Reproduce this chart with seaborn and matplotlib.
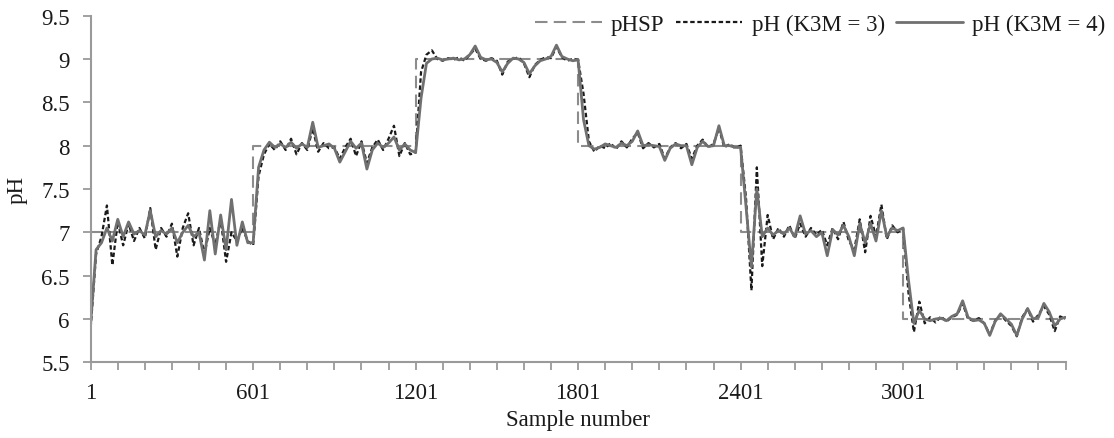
import numpy as np
import pandas as pd
import matplotlib
matplotlib.use("Agg")
import matplotlib.pyplot as plt
import seaborn as sns

# ---------------- data ----------------
sample = [1 + 20 * k for k in range(180)] + [3600]

ph_k3 = [
    5.90, 6.75, 6.95, 7.31, 6.62, 7.12, 6.85, 7.10, 6.90, 7.05,
    6.93, 7.28, 6.80, 7.05, 6.95, 7.10, 6.72, 7.05, 7.22, 6.85,
    7.05, 6.75, 7.05, 6.85, 7.15, 6.66, 7.00, 6.90, 7.05, 6.90,
    6.85, 7.65, 7.90, 8.02, 7.95, 8.05, 7.95, 8.08, 7.90, 8.03,
    7.95, 8.20, 7.93, 8.03, 7.97, 7.98, 7.85, 7.98, 8.08, 7.88,
    8.05, 7.80, 7.98, 8.07, 7.95, 8.08, 8.23, 7.88, 8.03, 7.90,
    7.92, 8.85, 9.05, 9.10, 9.00, 8.98, 9.01, 8.99, 9.02, 8.98,
    9.05, 9.12, 9.00, 8.98, 9.01, 8.98, 8.82, 8.97, 9.00, 9.02,
    8.95, 8.79, 8.93, 8.99, 9.02, 9.01, 9.14, 9.02, 8.98, 9.00,
    8.99, 8.60, 8.05, 7.93, 8.00, 7.97, 8.03, 7.96, 8.05, 7.98,
    8.08, 8.15, 7.97, 8.03, 7.98, 8.02, 7.85, 7.98, 8.03, 7.97,
    8.02, 7.85, 8.00, 8.07, 7.98, 8.02, 8.20, 7.98, 8.02, 7.97,
    8.00, 7.40, 6.33, 7.75, 6.61, 7.20, 6.92, 7.05, 6.95, 7.08,
    6.93, 7.10, 6.95, 7.05, 6.97, 7.03, 6.85, 7.05, 6.92, 7.12,
    6.90, 6.80, 7.15, 6.77, 7.19, 6.95, 7.32, 6.92, 7.08, 7.00,
    7.05, 6.30, 5.85, 6.20, 5.95, 6.02, 5.96, 6.03, 5.97, 6.02,
    6.05, 6.18, 6.00, 5.98, 6.01, 5.95, 5.82, 5.98, 6.05, 5.98,
    5.92, 5.80, 6.02, 6.12, 5.97, 6.05, 6.15, 6.05, 5.86, 6.03,
    6.00,
]

ph_k4 = [
    5.95, 6.80, 6.88, 7.05, 6.90, 7.15, 6.95, 7.12, 6.98, 7.02,
    6.97, 7.25, 6.95, 7.02, 6.98, 7.05, 6.88, 7.00, 7.08, 6.95,
    7.00, 6.68, 7.25, 6.75, 7.20, 6.80, 7.38, 6.85, 7.12, 6.88,
    6.88, 7.75, 7.95, 8.04, 7.98, 8.02, 7.98, 8.04, 7.97, 8.02,
    7.98, 8.27, 7.98, 8.00, 8.02, 7.97, 7.81, 7.93, 8.05, 7.97,
    8.03, 7.73, 7.95, 8.03, 7.98, 8.03, 8.10, 7.95, 8.02, 7.95,
    7.92, 8.55, 8.95, 9.00, 9.01, 8.99, 9.00, 9.01, 8.99, 9.00,
    9.05, 9.15, 9.02, 8.99, 9.00, 8.96, 8.85, 8.95, 9.01, 9.00,
    8.96, 8.83, 8.92, 8.98, 9.00, 9.03, 9.16, 9.03, 9.00, 8.98,
    8.99, 8.30, 8.00, 7.96, 7.98, 8.02, 8.00, 7.98, 8.03, 8.00,
    8.05, 8.17, 8.00, 8.01, 8.00, 7.99, 7.83, 7.97, 8.02, 8.00,
    8.00, 7.78, 7.98, 8.05, 7.99, 8.00, 8.23, 8.00, 8.00, 7.98,
    7.98, 7.30, 6.60, 7.50, 6.95, 7.05, 6.97, 7.02, 6.98, 7.05,
    6.95, 7.19, 6.98, 7.02, 6.95, 7.00, 6.73, 7.03, 6.97, 7.08,
    6.95, 6.73, 7.10, 6.88, 7.10, 6.90, 7.25, 6.95, 7.05, 7.02,
    7.05, 6.45, 5.95, 6.10, 6.00, 5.98, 6.00, 6.01, 5.98, 6.03,
    6.06, 6.21, 6.02, 5.98, 5.99, 5.95, 5.81, 5.97, 6.06, 6.00,
    5.94, 5.81, 6.00, 6.12, 6.00, 6.02, 6.18, 6.08, 5.92, 6.00,
    6.02,
]

sp_sample = [1, 601, 1201, 1801, 2401, 3001, 3600]
ph_sp = [7, 8, 9, 8, 7, 6, 6]

x_ticks = list(range(1, 3602, 100))
x_labels = ["1", "601", "1201", "1801", "2401", "3001"]
y_ticks = [5.5, 6, 6.5, 7, 7.5, 8, 8.5, 9, 9.5]
y_labels = ["5.5", "6", "6.5", "7", "7.5", "8", "8.5", "9", "9.5"]

# ---------------- style ----------------
sns.set_theme(style="white")
plt.rcParams["font.family"] = ["Liberation Serif", "DejaVu Serif"]
FS = 16.5

fig = plt.figure(figsize=(11.14, 4.39), dpi=100)
ax = fig.add_axes([0.0814, 0.1724, 0.8751, 0.7896])

sp_df = pd.DataFrame({"x": sp_sample, "y": ph_sp})
df = pd.DataFrame({"x": sample, "k3": ph_k3, "k4": ph_k4})

sns.lineplot(data=sp_df, x="x", y="y", ax=ax, color="#8c8c8c", lw=1.5,
             drawstyle="steps-post", linestyle=(0, (6, 3)),
             label="pHSP")
sns.lineplot(data=df, x="x", y="k3", ax=ax, color="#1a1a1a", lw=1.6,
             linestyle=(0, (2, 1.2)), label="pH (K3M = 3)")
sns.lineplot(data=df, x="x", y="k4", ax=ax, color="#707070", lw=2.0,
             label="pH (K3M = 4)")

ax.set_xlim(1, 3601)
ax.set_ylim(5.5, 9.5)

ax.set_xticks(x_ticks)
lab_map = {int(l): l for l in x_labels}
ax.set_xticklabels([lab_map.get(t, "") for t in x_ticks], fontsize=FS)
ax.set_yticks(y_ticks)
ax.set_yticklabels(y_labels, fontsize=FS)

ax.tick_params(axis="both", which="both", direction="out", length=5.5,
               width=1.3, color="#9a9a9a", labelcolor="#1a1a1a")
ax.tick_params(axis="x", bottom=True, pad=9)
ax.tick_params(axis="y", left=True, pad=9.5)

for s in ["top", "right"]:
    ax.spines[s].set_visible(False)
for s in ["left", "bottom"]:
    ax.spines[s].set_color("#9a9a9a")
    ax.spines[s].set_linewidth(1.5)

ax.set_xlabel("Sample number", fontsize=FS, color="#1a1a1a", labelpad=4)
ax.set_ylabel("pH", fontsize=FS, color="#1a1a1a", labelpad=10)

leg = ax.legend(loc="center right", bbox_to_anchor=(0.992, 0.941),
                bbox_transform=fig.transFigure, ncol=3, frameon=False,
                fontsize=FS, handlelength=2.9, handletextpad=0.4,
                columnspacing=0.5, borderpad=0, borderaxespad=0)
for t in leg.get_texts():
    t.set_color("#1a1a1a")

fig.savefig("out.png", dpi=100)
